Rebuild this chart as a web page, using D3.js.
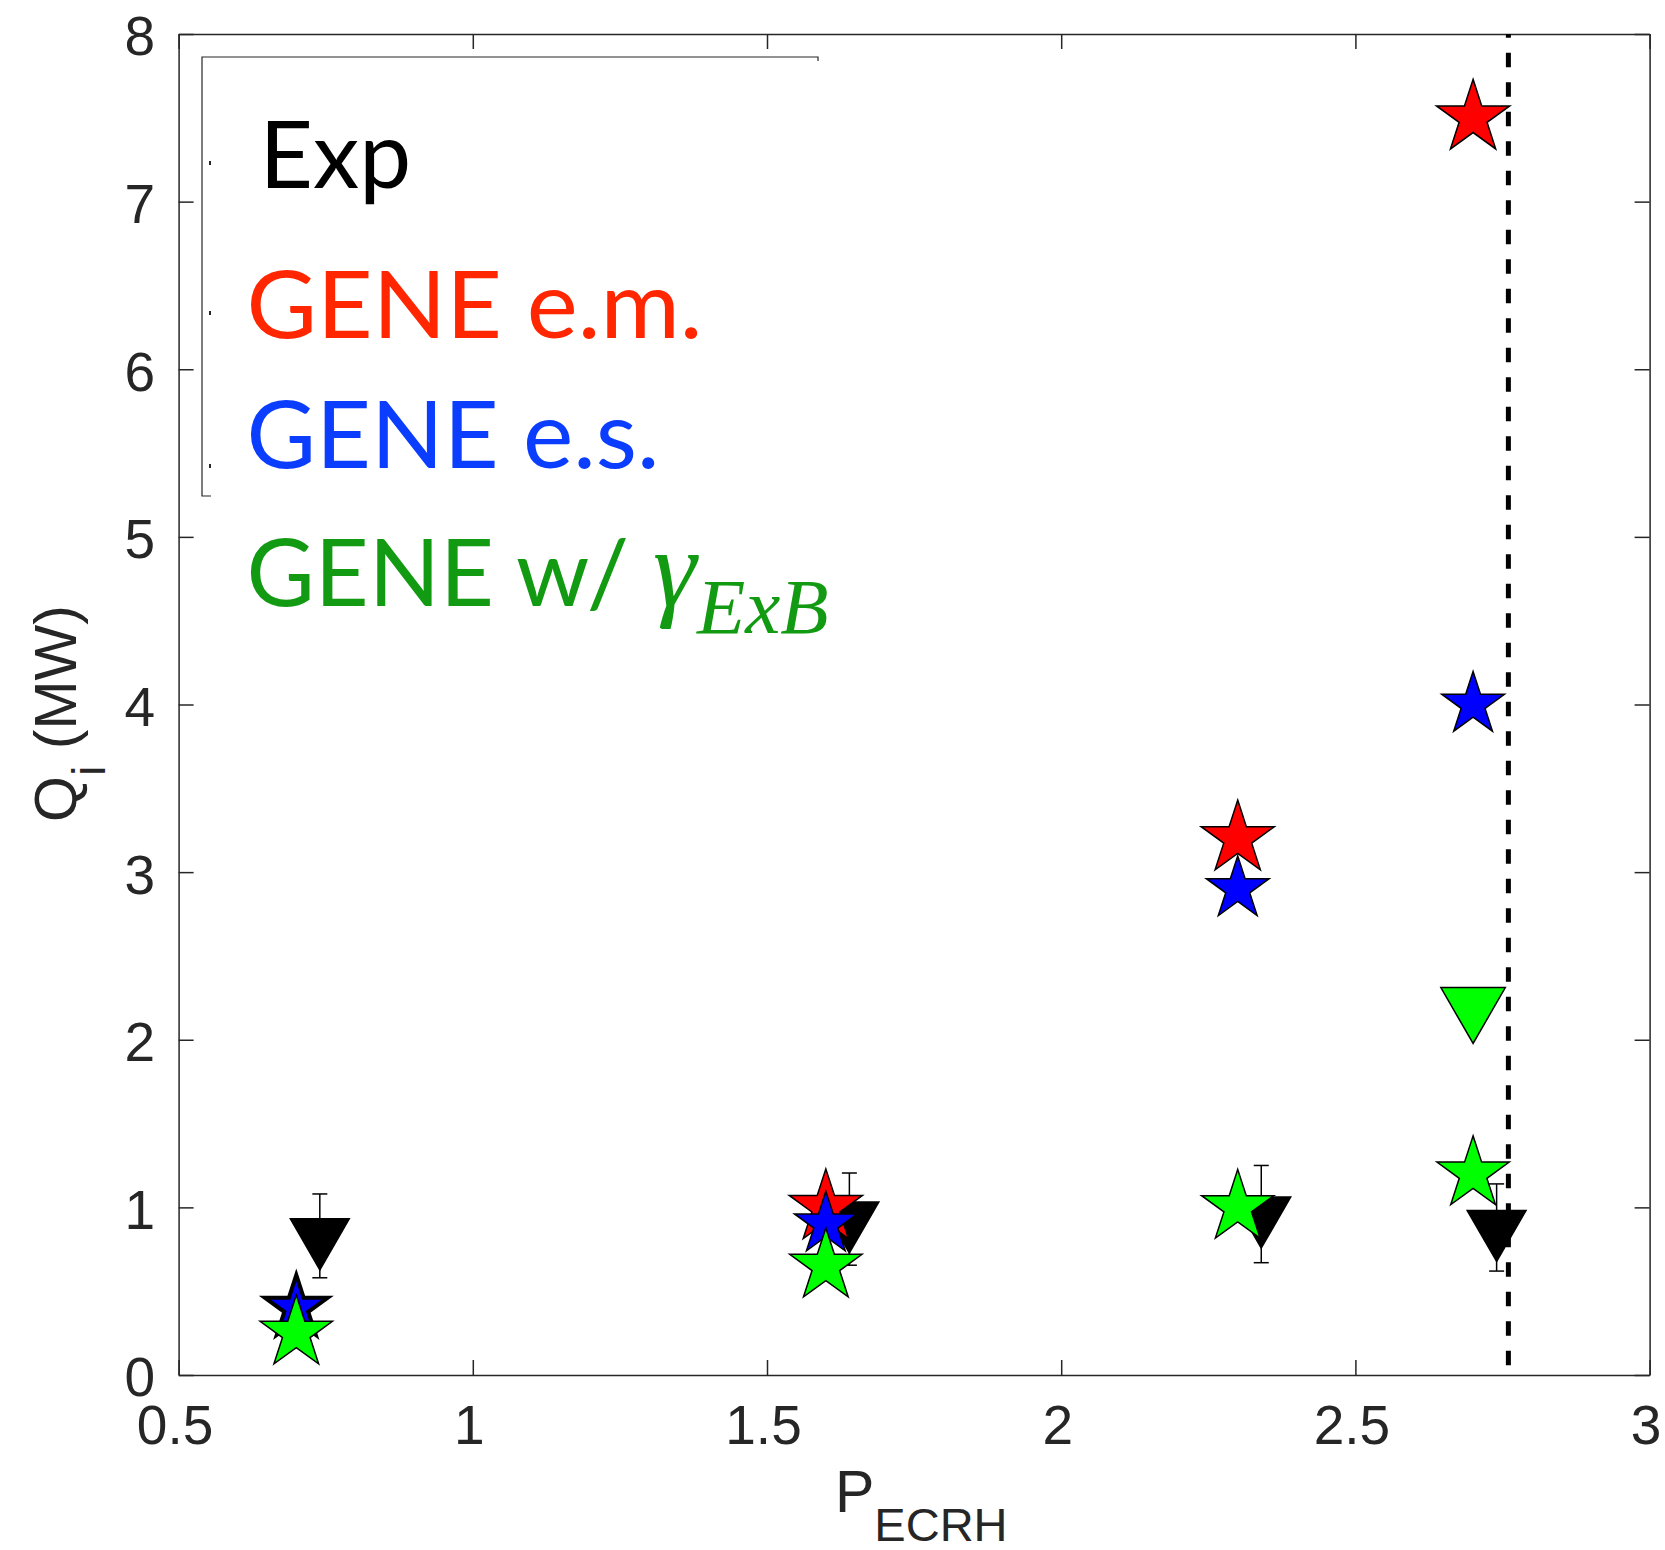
<!DOCTYPE html>
<html>
<head>
<meta charset="UTF-8">
<script src="https://cdn.jsdelivr.net/npm/d3@7"></script>
<style>
body { margin: 0; background: #fff; }
.axis path, .axis line { stroke: #262626; stroke-width: 1.5; }
.axis text { font-family: "Liberation Sans", Arial, sans-serif; font-size: 55px; fill: #262626; }
</style>
</head>
<body>
<svg id="chart" width="1665" height="1550"></svg>
<script>
// GENE runs, one value per ECRH power
const pGene = [0.7, 1.6, 2.3, 2.7];
const qEm = [null, 1.0, 3.2, 7.5];
const qEs = [0.4, 0.9, 2.9, 4.0];
const qExb = [0.25, 0.65, 1.0, 1.2];
// GENE w/ ExB shear, the triangle point
const pExbTri = [2.7];
const qExbTri = [2.2];
// experiment, with error bars
const pExp = [0.74, 1.64, 2.34, 2.74];
const qExp = [0.83, 0.93, 0.96, 0.88];
const qExpErr = [0.25, 0.275, 0.29, 0.26];
// dashed vertical line
const pLimit = 2.76;

const xTicks = [0.5, 1, 1.5, 2, 2.5, 3];
const yTicks = [0, 1, 2, 3, 4, 5, 6, 7, 8];

const svg = d3.select("#chart");
svg.append("rect").attr("width", 1665).attr("height", 1550).attr("fill", "#fff");

const mLeft = 178.6, mRight = 1649.6, mTop = 34, mBottom = 1375;
const x = d3.scaleLinear().domain([0.5, 3]).range([mLeft, mRight]);
const y = d3.scaleLinear().domain([0, 8]).range([mBottom, mTop]);

// axes, ticks point inwards on all four sides
svg.append("g").attr("class", "axis")
    .attr("transform", "translate(0," + mBottom + ")")
    .call(d3.axisBottom(x).tickValues(xTicks).tickSizeInner(-15).tickSizeOuter(0).tickPadding(30)
        .tickFormat(d => "" + d))
    .selectAll("text").attr("dx", -4);
svg.append("g").attr("class", "axis")
    .attr("transform", "translate(0," + mTop + ")")
    .call(d3.axisTop(x).tickValues(xTicks).tickSizeInner(-15).tickSizeOuter(0).tickFormat(""));
svg.append("g").attr("class", "axis")
    .attr("transform", "translate(" + mLeft + ",0)")
    .call(d3.axisLeft(y).tickValues(yTicks).tickSizeInner(-15).tickSizeOuter(0).tickPadding(23.6)
        .tickFormat(d => "" + d))
    .selectAll("text").attr("dy", "0.38em");
svg.append("g").attr("class", "axis")
    .attr("transform", "translate(" + mRight + ",0)")
    .call(d3.axisRight(y).tickValues(yTicks).tickSizeInner(-15).tickSizeOuter(0).tickFormat(""));
svg.selectAll(".axis text").attr("fill", "#262626");

// axis labels with subscripts
const xl = svg.append("text")
    .attr("x", 835).attr("y", 1512)
    .attr("font-family", "Liberation Sans, Arial, sans-serif")
    .attr("font-size", 59).attr("fill", "#262626");
xl.append("tspan").text("P");
xl.append("tspan").attr("font-size", 47).attr("dy", 29).text("ECRH");

const yl = svg.append("text")
    .attr("transform", "translate(76,822) rotate(-90)")
    .attr("font-family", "Liberation Sans, Arial, sans-serif")
    .attr("font-size", 59).attr("fill", "#262626");
yl.append("tspan").text("Q");
yl.append("tspan").attr("font-size", 47).attr("dy", 29).text("i");
yl.append("tspan").attr("dy", -29).text(" (MW)");

// dashed line
svg.append("line")
    .attr("x1", x(pLimit)).attr("x2", x(pLimit))
    .attr("y1", y(8)).attr("y2", y(0))
    .attr("stroke", "#000").attr("stroke-width", 5)
    .attr("stroke-dasharray", "14.5,15").attr("stroke-dashoffset", 10.8);

// experiment: error bars then down triangles
const expData = pExp.map((p, i) => ({p: p, q: qExp[i], e: qExpErr[i]}));
const eb = svg.append("g").attr("stroke", "#000").attr("stroke-width", 1.5);
expData.forEach(d => {
    eb.append("line").attr("x1", x(d.p)).attr("x2", x(d.p))
        .attr("y1", y(d.q + d.e)).attr("y2", y(d.q - d.e));
    eb.append("line").attr("x1", x(d.p) - 7.5).attr("x2", x(d.p) + 7.5)
        .attr("y1", y(d.q + d.e)).attr("y2", y(d.q + d.e));
    eb.append("line").attr("x1", x(d.p) - 7.5).attr("x2", x(d.p) + 7.5)
        .attr("y1", y(d.q - d.e)).attr("y2", y(d.q - d.e));
});
svg.append("g").selectAll("path")
    .data(expData).enter().append("path")
    .attr("d", d3.symbol(d3.symbolTriangle, 1502))
    .attr("transform", d => "translate(" + x(d.p) + "," + y(d.q) + ") rotate(180)")
    .attr("fill", "#000").attr("stroke", "#000").attr("stroke-width", 1.5);

// GENE stars, radius R -> d3 symbol area
function starSize(R) { return R * R / 0.8908130915292852; }
function stars(qs, fill, R, sw) {
    const data = pGene.map((p, i) => ({p: p, q: qs[i], i: i})).filter(d => d.q != null);
    svg.append("g").selectAll("path")
        .data(data).enter().append("path")
        .attr("d", d3.symbol(d3.symbolStar, starSize(R)))
        .attr("transform", d => "translate(" + x(d.p) + "," + y(d.q) + ")")
        .attr("fill", fill).attr("stroke", "#000")
        .attr("stroke-width", d => (typeof sw === "function" ? sw(d) : sw))
        .attr("stroke-linejoin", "miter");
}
stars(qEm, "#ff0000", 38.5, 1.5);
stars(qEs, "#0000ff", 33, d => (d.i === 0 ? 4 : 1.5));
stars(qExb, "#00ff00", 38, 1.5);

// green triangle
svg.append("g").selectAll("path")
    .data(pExbTri.map((p, i) => ({p: p, q: qExbTri[i]}))).enter().append("path")
    .attr("d", d3.symbol(d3.symbolTriangle, 1798))
    .attr("transform", d => "translate(" + x(d.p) + "," + y(d.q) + ") rotate(180)")
    .attr("fill", "#00ff00").attr("stroke", "#000").attr("stroke-width", 1.5);

// legend frame (partly covered in the original)
const lg = svg.append("g").attr("stroke", "#262626").attr("stroke-width", 1.2).attr("fill", "none");
lg.append("path").attr("d", "M818,61 L818,57 L202,57 L202,496 L211,496");
[163, 313, 466].forEach(v => {
    lg.append("line").attr("x1", 210).attr("x2", 210).attr("y1", v - 2).attr("y2", v + 2).attr("stroke-width", 2);
});

// legend texts
const legFont = "Lato, 'Open Sans', sans-serif";
svg.append("text").attr("x", 259.5).attr("y", 188)
    .attr("font-family", legFont).attr("font-size", 94).attr("fill", "#000")
    .attr("textLength", 151.7).attr("lengthAdjust", "spacingAndGlyphs").text("Exp");
svg.append("text").attr("x", 246.6).attr("y", 338)
    .attr("font-family", legFont).attr("font-size", 94).attr("fill", "#ff2600")
    .attr("textLength", 455.9).attr("lengthAdjust", "spacingAndGlyphs").text("GENE e.m.");
svg.append("text").attr("x", 246.6).attr("y", 468)
    .attr("font-family", legFont).attr("font-size", 94).attr("fill", "#0b3dff")
    .attr("textLength", 412.8).attr("lengthAdjust", "spacingAndGlyphs").text("GENE e.s.");
svg.append("text").attr("x", 246.6).attr("y", 606)
    .attr("font-family", legFont).attr("font-size", 94).attr("fill", "#139a13")
    .attr("textLength", 382.5).attr("lengthAdjust", "spacingAndGlyphs").text("GENE w/");
const g1 = svg.append("text").attr("x", 653).attr("y", 606)
    .attr("font-family", "'Liberation Serif', 'Times New Roman', serif")
    .attr("font-style", "italic").attr("fill", "#139a13").attr("font-size", 110);
g1.append("tspan").text("γ");
g1.append("tspan").attr("x", 697).attr("dy", 27).attr("font-size", 79).text("ExB");
</script>
</body>
</html>
